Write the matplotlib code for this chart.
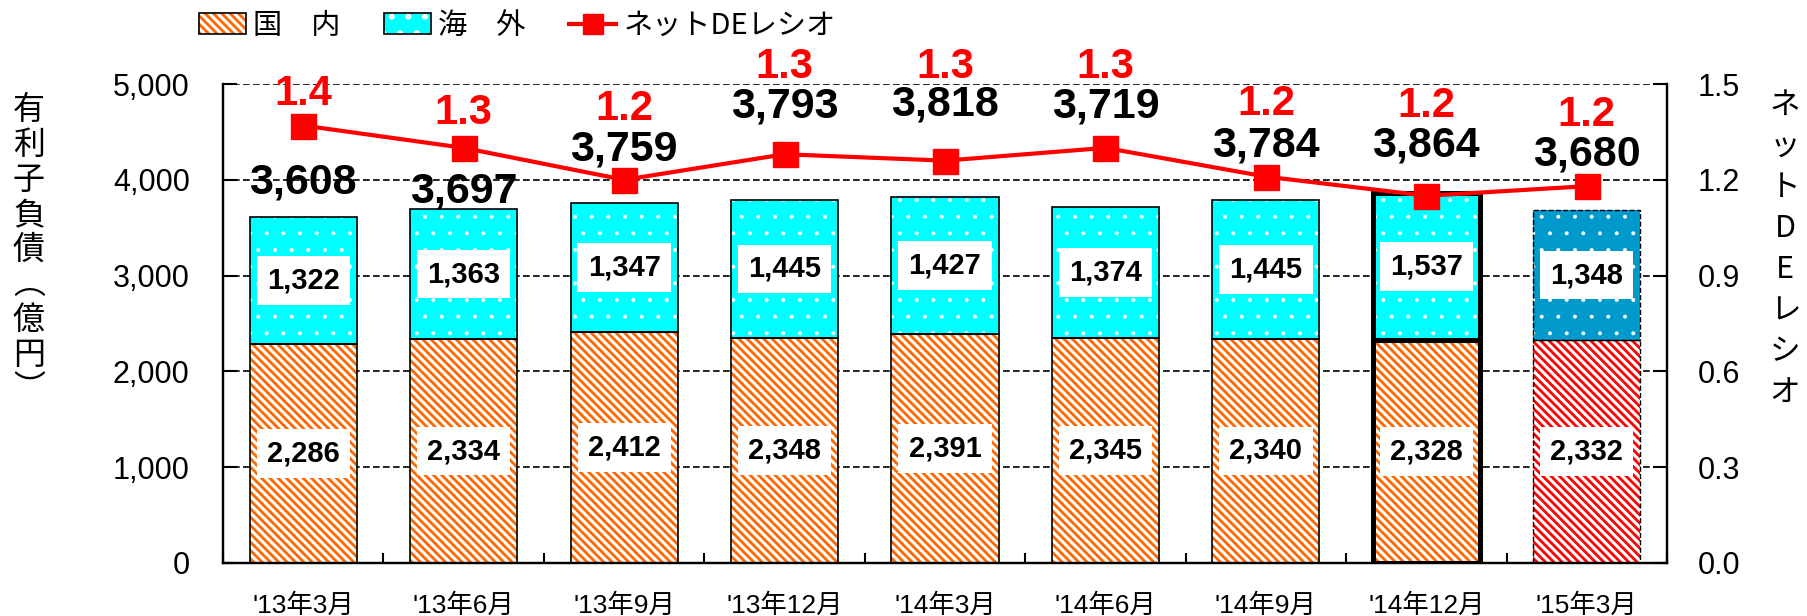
import numpy as np
import matplotlib.pyplot as plt
from matplotlib.patches import Patch
from matplotlib.lines import Line2D
from matplotlib.ticker import FuncFormatter
from matplotlib.legend_handler import HandlerTuple

plt.rcParams['font.family'] = ['Liberation Sans', 'Noto Sans CJK JP']
plt.rcParams['hatch.linewidth'] = 2.0

# --- data -------------------------------------------------------------
periods = ["'13年3月", "'13年6月", "'13年9月", "'13年12月", "'14年3月",
           "'14年6月", "'14年9月", "'14年12月", "'15年3月"]
domestic = [2286, 2334, 2412, 2348, 2391, 2345, 2340, 2328, 2332]
overseas = [1322, 1363, 1347, 1445, 1427, 1374, 1445, 1537, 1348]
totals = [3608, 3697, 3759, 3793, 3818, 3719, 3784, 3864, 3680]
de_ratio = [1.37, 1.30, 1.20, 1.28, 1.26, 1.30, 1.21, 1.15, 1.18]
de_labels = ['1.4', '1.3', '1.2', '1.3', '1.3', '1.3', '1.2', '1.2', '1.2']

# hand placed label heights (left axis units), as in the original slide
total_label_y = [3967, 3873, 4320, 4760, 4781, 4760, 4363, 4363, 4259]
ratio_label_y = [4896, 4700, 4740, 5177, 5177, 5177, 4791, 4770, 4680]

# styles
dom_colors = ['#FF6600'] * 8 + ['#FF0000']
ovs_colors = ['#00FFFF'] * 8 + ['#0099CC']
edge_lw = [1.2] * 7 + [3.6, 1.0]
edge_ls = ['-'] * 8 + ['--']
stripes = '\\\\\\\\'

W, H = 1808, 616
fig = plt.figure(figsize=(W / 100, H / 100), dpi=100)
ax = fig.add_axes([223 / W, 53 / H, 1444 / W, 479 / H])
ax2 = ax.twinx()

x = np.arange(len(periods))
w = 0.667


def hatch_lw(patches, lw):
    for p in patches:
        if hasattr(p, 'set_hatch_linewidth'):
            p.set_hatch_linewidth(lw)


# filled / hatched segments
with plt.rc_context({'hatch.linewidth': 2.0}):
    b1 = ax.bar(x, domestic, w, color='white', edgecolor=dom_colors,
                hatch=stripes, linewidth=0, zorder=2)
    hatch_lw(b1, 2.0)
with plt.rc_context({'hatch.linewidth': 0.4}):
    b2 = ax.bar(x, overseas, w, bottom=domestic, color=ovs_colors,
                edgecolor='white', hatch='.', linewidth=0, zorder=2)
    hatch_lw(b2, 0.4)

# outlines
for i in x:
    ax.bar(i, domestic[i], w, fill=False, edgecolor='black',
           linewidth=edge_lw[i], linestyle=edge_ls[i], zorder=3)
    ax.bar(i, overseas[i], w, bottom=domestic[i], fill=False, edgecolor='black',
           linewidth=edge_lw[i], linestyle=edge_ls[i], zorder=3)

box = dict(boxstyle='square,pad=0.35', fc='white', ec='none')
for i in x:
    ax.text(i, domestic[i] / 2, f'{domestic[i]:,}', ha='center', va='center',
            fontsize=21, fontweight='bold', bbox=box, zorder=4)
    ax.text(i, domestic[i] + overseas[i] / 2, f'{overseas[i]:,}', ha='center',
            va='center', fontsize=21, fontweight='bold', bbox=box, zorder=4)

ax.set_xlim(-0.5, len(periods) - 0.5)
ax.set_ylim(0, 5000)
ax.set_yticks(np.arange(0, 5001, 1000))
ax.yaxis.set_major_formatter(FuncFormatter(lambda v, p: f'{int(v):,}'))
ax.set_xticks(x)
ax.set_xticklabels(periods, fontsize=19)
ax.set_xticks(np.arange(-0.5, len(periods), 1), minor=True)
ax.tick_params(axis='x', which='major', length=0, pad=22)
ax.tick_params(axis='x', which='minor', direction='in', length=7, width=1.5)
ax.tick_params(axis='y', direction='in', length=10, width=1.5, labelsize=22, pad=24)
ax.yaxis.grid(True, linestyle=(0, (4, 2)), color='black', linewidth=1.2)
ax.set_axisbelow(True)

# net DE ratio
ax2.plot(x, de_ratio, color='#FF0000', linewidth=3, marker='s', markersize=18,
         zorder=5)
ax2.set_ylim(0, 1.5)
ax2.set_yticks(np.arange(0, 1.51, 0.3))
ax2.yaxis.set_major_formatter(FuncFormatter(lambda v, p: f'{v:.1f}'))
ax2.tick_params(axis='y', direction='in', length=10, width=1.5, labelsize=22, pad=22)

for a in (ax, ax2):
    a.spines['top'].set_visible(False)
    for s in ('left', 'right', 'bottom'):
        a.spines[s].set_linewidth(1.6)

for i in x:
    ax2.text(i, total_label_y[i] / 5000 * 1.5, f'{totals[i]:,}', ha='center',
             va='center', fontsize=31, fontweight='bold', zorder=6)
    ax2.text(i, ratio_label_y[i] / 5000 * 1.5, de_labels[i], ha='center',
             va='center', fontsize=30, fontweight='bold', color='#FF0000', zorder=6)

# vertical axis titles
fig.text(29 / W, 1 - 250 / H, '有\n利\n子\n負\n債\n︵\n億\n円\n︶', ha='center',
         va='center', fontsize=23, family=['Noto Sans CJK JP'], linespacing=1.12)
fig.text(1785 / W, 1 - 249 / H, 'ネ\nッ\nト\nD\nE\nレ\nシ\nオ', ha='center',
         va='center', fontsize=22, family=['Noto Sans CJK JP'], linespacing=1.42)

# legend
h_dom = (Patch(facecolor='white', edgecolor='#FF6600', hatch=stripes, linewidth=0),
         Patch(fill=False, edgecolor='black', linewidth=1.2))
h_ovs = (Patch(facecolor='#00FFFF', edgecolor='white', hatch='.', linewidth=0),
         Patch(fill=False, edgecolor='black', linewidth=1.2))
h_de = Line2D([], [], color='#FF0000', linewidth=3, marker='s', markersize=15)
fig.legend([h_dom, h_ovs, h_de], ['国　内', '海　外', 'ネットDEレシオ'],
           handler_map={tuple: HandlerTuple(ndivide=1)},
           loc='upper left', bbox_to_anchor=(173 / W, 1.025), ncol=3,
           frameon=False, prop={'family': ['Noto Sans CJK JP'], 'size': 21},
           handlelength=1.6, handleheight=0.7, columnspacing=1.5,
           handletextpad=0.25)

fig.savefig('out.png', dpi=100)
